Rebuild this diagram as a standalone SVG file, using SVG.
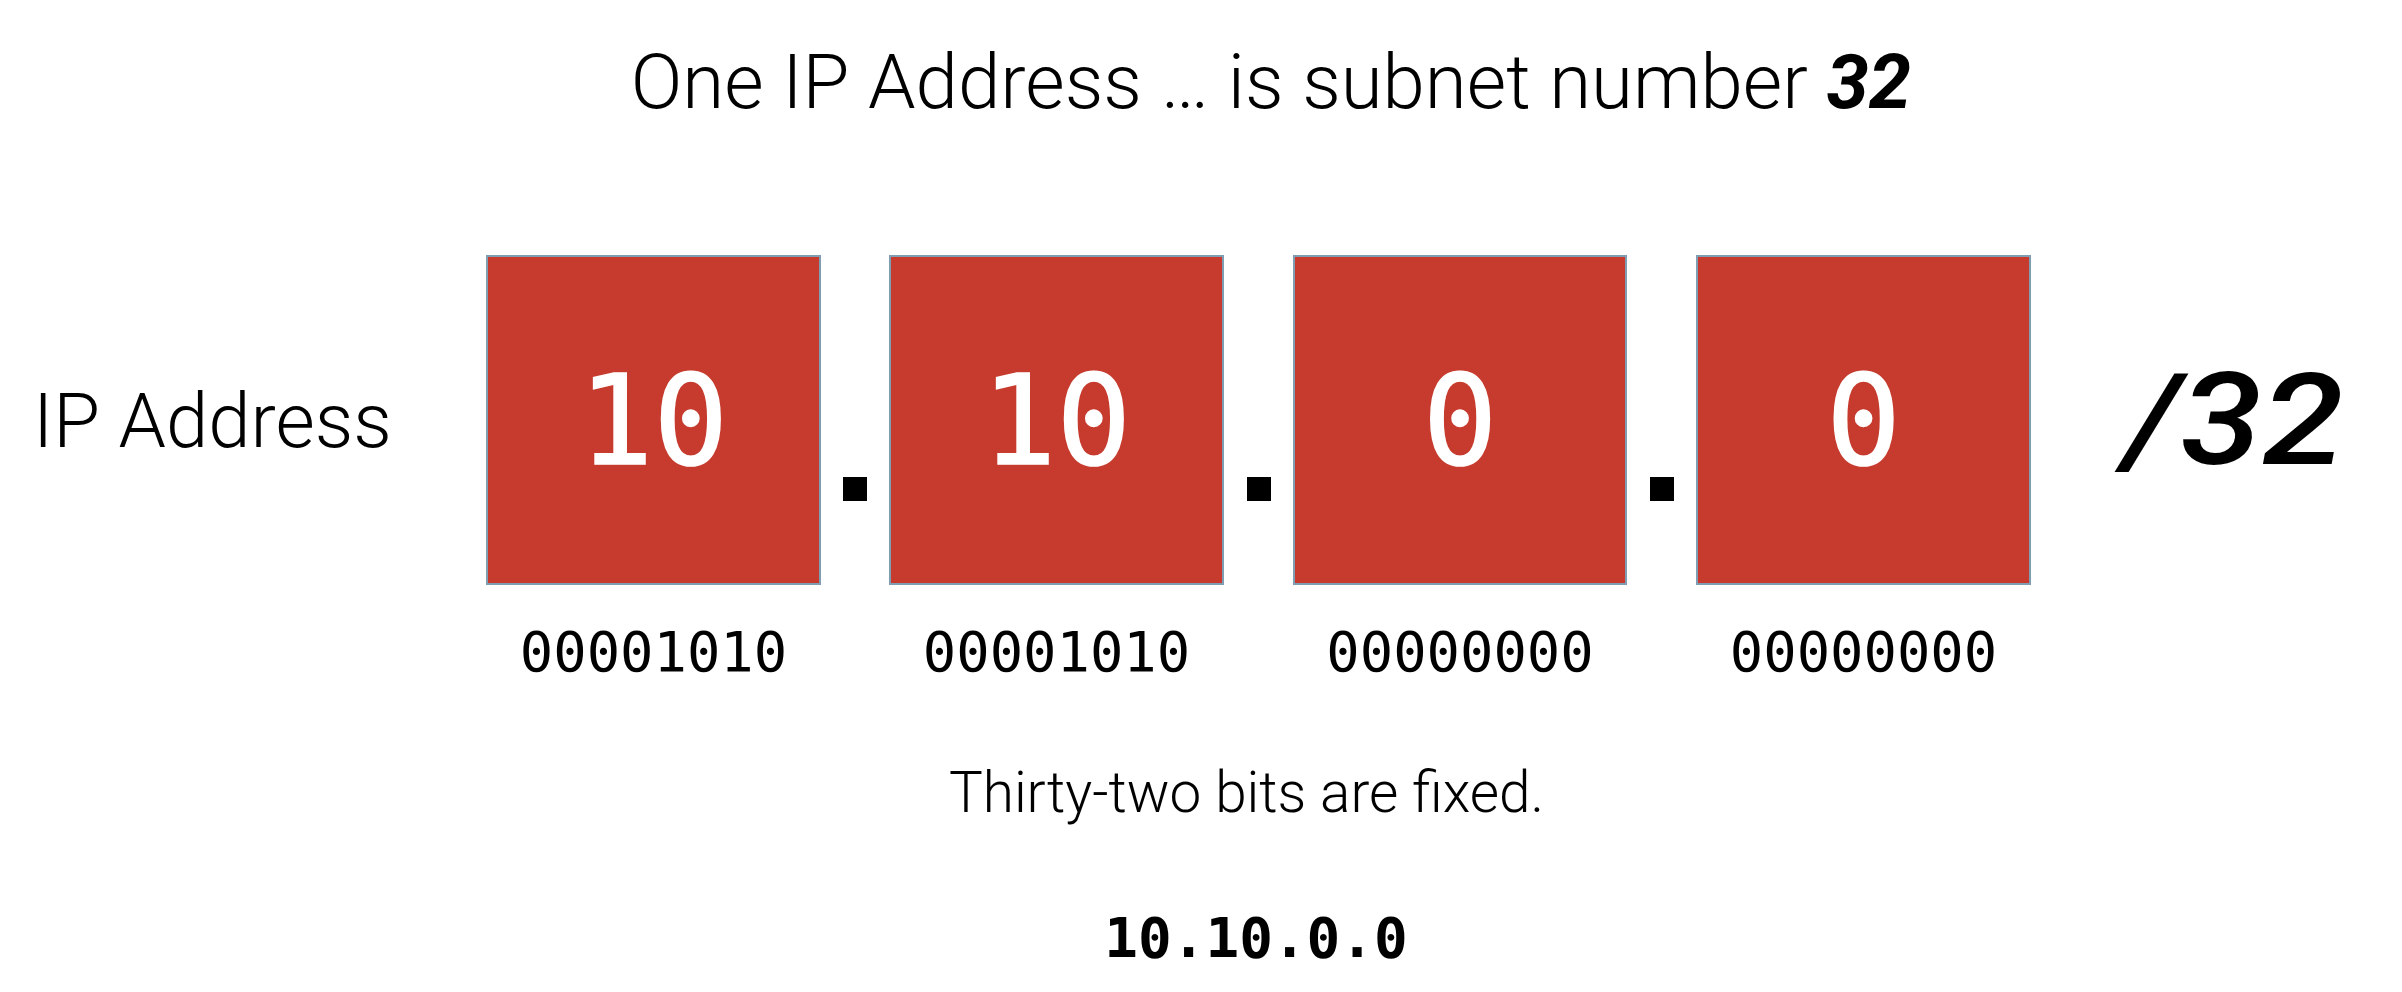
<svg xmlns="http://www.w3.org/2000/svg" width="2402" height="992" viewBox="0 0 2402 992">
<style>
.light{font-family:Roboto,"Liberation Sans",sans-serif;font-weight:300;fill:#000}
.box{fill:#c63b2d;stroke:#7f9db3;stroke-width:2}
.oct{font-family:"DejaVu Sans Mono","Liberation Mono",monospace;font-size:124px;fill:#fff;stroke:#fff;stroke-width:1.5;text-anchor:middle}
.bin{font-family:"DejaVu Sans Mono","Liberation Mono",monospace;font-size:55.5px;fill:#000;text-anchor:middle}
.dot{fill:#000}
</style>
<rect width="2402" height="992" fill="#fff"/>
<text id="title" class="light" x="1271" y="108" font-size="76.2" text-anchor="middle">One IP Address … is subnet number <tspan font-weight="700" font-style="italic">32</tspan></text>
<text id="label" class="light" x="33" y="447" font-size="76">IP Address</text>
<g id="octet1"><rect class="box" x="487" y="256" width="333" height="328"/><text class="oct" x="653.5" y="464">10</text><text class="bin" x="653.5" y="671">00001010</text></g>
<g id="octet2"><rect class="box" x="890" y="256" width="333" height="328"/><text class="oct" x="1056.5" y="464">10</text><text class="bin" x="1056.5" y="671">00001010</text></g>
<g id="octet3"><rect class="box" x="1294" y="256" width="332" height="328"/><text class="oct" x="1460" y="464">0</text><text class="bin" x="1460" y="671">00000000</text></g>
<g id="octet4"><rect class="box" x="1697" y="256" width="333" height="328"/><text class="oct" x="1863.5" y="464">0</text><text class="bin" x="1863.5" y="671">00000000</text></g>
<g id="dots">
<rect class="dot" x="843" y="477" width="24" height="24"/>
<rect class="dot" x="1247" y="477" width="24" height="24"/>
<rect class="dot" x="1650" y="477" width="24" height="24"/>
</g>
<text id="prefix" x="2124" y="464" font-family="Roboto,'Liberation Sans',sans-serif" font-size="128" font-weight="500" font-style="italic" fill="#000" textLength="220" lengthAdjust="spacingAndGlyphs">/32</text>
<text id="note" class="light" x="1246.5" y="812" font-size="56.7" text-anchor="middle">Thirty-two bits are fixed.</text>
<text id="addr" x="1256" y="957" font-family="'DejaVu Sans Mono','Liberation Mono',monospace" font-size="56" font-weight="700" text-anchor="middle" fill="#000">10.10.0.0</text>
</svg>
